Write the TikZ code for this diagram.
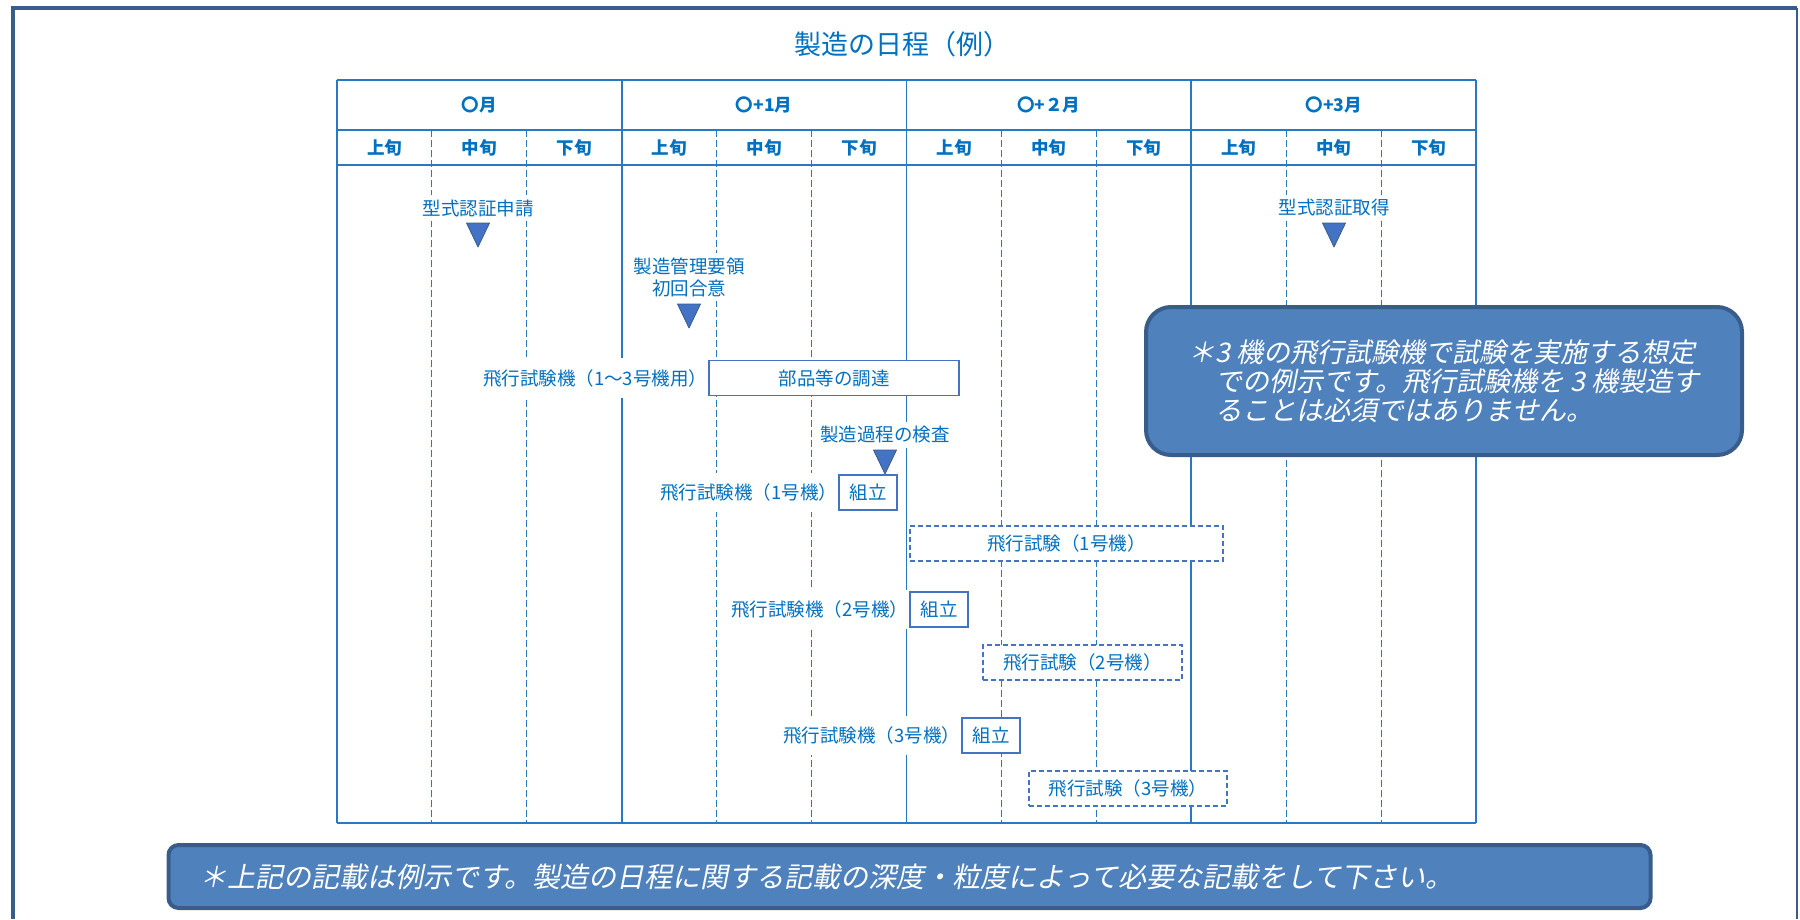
\documentclass[tikz,border=0pt]{standalone}
\usepackage{fontspec}
\setmainfont{Noto Sans CJK JP}
\newfontfamily\notefont{Noto Sans CJK JP}[FakeSlant=0.2]
\usepackage{tikz}
\usetikzlibrary{positioning}
\definecolor{txtblue}{HTML}{0070C0}
\definecolor{gridblue}{HTML}{2878C3}
\definecolor{boxblue}{HTML}{4472C4}
\definecolor{notefill}{HTML}{4F81BD}
\definecolor{noteline}{HTML}{385D8A}
\tikzstyle{tbl} = [gridblue, line width=1.6pt]
\tikzstyle{tbldash} = [gridblue, line width=1.1pt, dash pattern=on 7pt off 3pt]
\tikzstyle{hdr} = [text=txtblue, font=\bfseries\fontsize{17.5}{20}\selectfont]
\tikzstyle{ms} = [fill=white, text=txtblue, inner xsep=2pt, inner ysep=4pt, align=center, font=\fontsize{18.5}{22}\selectfont]
\tikzstyle{lbl} = [fill=white, text=txtblue, inner xsep=10pt, inner ysep=11pt, font=\fontsize{18.5}{22}\selectfont]
\tikzstyle{task} = [draw=boxblue, line width=1.5pt, fill=white, text=txtblue, inner sep=0pt, minimum height=35pt, font=\fontsize{18.5}{22}\selectfont]
\tikzstyle{trial} = [task, line width=1.1pt, dash pattern=on 5pt off 3pt]
\tikzstyle{tri} = [fill=boxblue, draw=noteline, line width=0.8pt, line join=round]
\tikzstyle{note} = [fill=notefill, draw=noteline, line width=4pt, text=white, font=\notefont\fontsize{27}{29}\selectfont]
\newcommand{\msmark}[2]{\filldraw[tri] (#1-11.5,#2) -- (#1+11.5,#2) -- (#1,#2+24) -- cycle;}

\begin{document}
\begin{tikzpicture}[x=1pt, y=-1pt]
\useasboundingbox (0,0) rectangle (1800,919);
\draw[noteline, line width=4pt] (13,919) -- (13,8) -- (1797,8);
\draw[noteline, line width=1.5pt] (1797,8) -- (1797,919);

\node[text=txtblue, font=\fontsize{27}{30}\selectfont] (title) at (902,44) {製造の日程（例）};

% table
\foreach \i in {0,...,4} \draw[tbl] (337+284.75*\i,80) -- (337+284.75*\i,823);
\foreach \i in {1,2,4,5,7,8,10,11} \draw[tbldash] (337+94.917*\i,130) -- (337+94.917*\i,823);
\foreach \y in {80,130,165,823} \draw[tbl] (337,\y) -- (1476,\y);
\foreach \m [count=\i from 0] in {〇月,〇+1月,〇+２月,〇+3月}
  \node[hdr] (m\i) at (479.4+284.75*\i,105) {\m};
\foreach \s [count=\i from 0] in {上旬,中旬,下旬,上旬,中旬,下旬,上旬,中旬,下旬,上旬,中旬,下旬}
  \node[hdr] (s\i) at (384.5+94.917*\i,148) {\s};

\node[ms] (shinsei) at (478,208) {型式認証申請};
\msmark{478}{223}
\node[ms] (kanri) at (689,277) {製造管理要領\\初回合意};
\msmark{689}{304}
\node[ms] (kensa) at (885,435) {製造過程の検査};
\msmark{885}{450}
\node[ms] (shutoku) at (1334,208) {型式認証取得};
\msmark{1334}{223}

\node[task, minimum width=250pt] (buhin) at (834,378) {部品等の調達};
\node[lbl, left=2pt of buhin] (ki0) {飛行試験機（1～3号機用）\kern-0.6em};
\node[task, minimum width=58pt] (kumi1) at (868,492.5) {組立};
\node[lbl, left=2pt of kumi1] (ki1) {飛行試験機（1号機）\kern-0.6em};
\node[trial, minimum width=313pt] (test1) at (1066.5,543.5) {飛行試験（1号機）};
\node[task, minimum width=58pt] (kumi2) at (939,609.5) {組立};
\node[lbl, left=2pt of kumi2] (ki2) {飛行試験機（2号機）\kern-0.6em};
\node[trial, minimum width=199pt] (test2) at (1082.5,662.5) {飛行試験（2号機）};
\node[task, minimum width=58pt] (kumi3) at (991,735.5) {組立};
\node[lbl, left=2pt of kumi3] (ki3) {飛行試験機（3号機）\kern-0.6em};
\node[trial, minimum width=198pt] (test3) at (1128,788.5) {飛行試験（3号機）};

\node[note, rounded corners=25pt, minimum width=596pt, minimum height=148pt, align=left] (note1) at (1444,381) {＊3 機の飛行試験機で試験を実施する想定\\\phantom{＊}での例示です。飛行試験機を 3 機製造す\\\phantom{＊}ることは必須ではありません。};
\node[note, rounded corners=10pt, minimum height=63pt, text width=1420pt, inner xsep=31pt, align=left, font=\notefont\fontsize{28}{30}\selectfont] (note2) at (909.5,876.5) {＊上記の記載は例示です。製造の日程に関する記載の深度・粒度によって必要な記載をして下さい。};
\end{tikzpicture}
\end{document}
